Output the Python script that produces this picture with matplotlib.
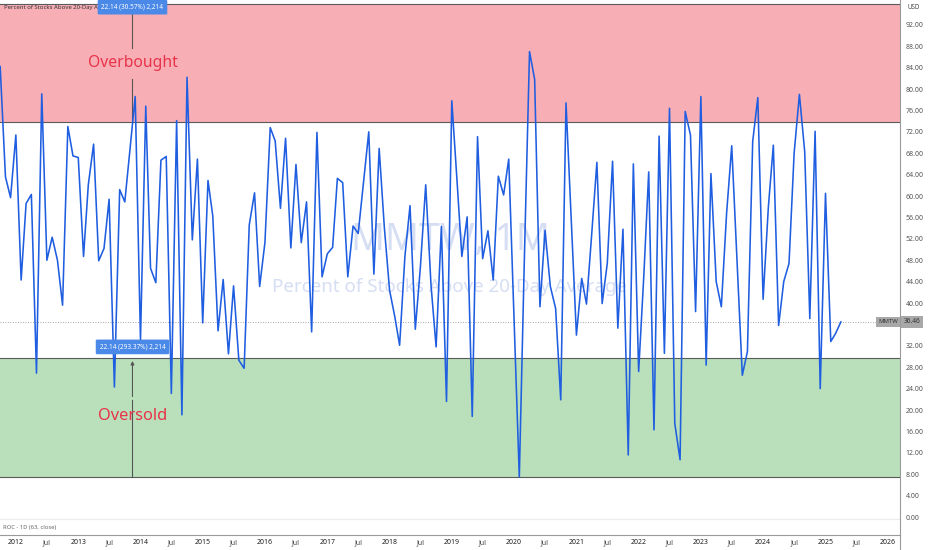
import pandas as pd
import matplotlib.pyplot as plt
import matplotlib.dates as mdates
from matplotlib.lines import Line2D

plt.rcParams['font.family'] = ['Noto Sans', 'DejaVu Sans']

# monthly closes of MMTW, Oct 2011 .. Apr 2025
start = "2011-10-01"
mmtw = [
    84.2, 63.6, 59.7, 71.4, 44.3, 58.6, 60.3, 26.9, 79.1, 48.0,
    52.3, 48.0, 39.6, 73.0, 67.5, 67.2, 48.7, 62.1, 69.7, 47.9,
    50.2, 59.4, 24.3, 61.2, 58.9, 68.9, 78.6, 33.1, 76.8, 46.5,
    43.8, 66.7, 67.4, 23.1, 74.1, 19.1, 82.2, 51.8, 66.9, 36.3,
    62.9, 56.3, 34.8, 44.4, 30.5, 43.2, 29.3, 27.8, 54.6, 60.6,
    43.1, 51.3, 72.8, 70.3, 57.7, 70.8, 50.3, 65.9, 51.3, 58.9,
    34.6, 71.9, 44.9, 49.2, 50.4, 63.3, 62.5, 44.9, 54.4, 53.0,
    62.5, 72.0, 45.4, 68.9, 54.3, 42.4, 37.4, 32.1, 48.7, 58.2,
    35.1, 46.8, 62.1, 43.4, 31.8, 54.3, 21.6, 77.8, 62.7, 48.7,
    56.1, 18.8, 71.1, 48.3, 53.5, 44.3, 63.7, 60.2, 66.9, 37.2,
    7.5, 47.4, 87.0, 81.8, 39.3, 53.6, 43.1, 39.0, 21.9, 77.4,
    56.1, 34.0, 44.6, 39.8, 53.0, 66.3, 39.9, 47.4, 66.5, 35.3,
    53.8, 11.6, 66.0, 27.2, 45.5, 64.5, 16.3, 71.2, 30.6, 76.4,
    17.5, 10.7, 75.8, 71.4, 38.4, 78.6, 28.4, 64.2, 44.0, 39.3,
    56.8, 69.4, 48.0, 26.5, 30.9, 70.2, 78.4, 40.7, 58.0, 69.5,
    35.8, 44.0, 47.4, 68.0, 79.0, 68.3, 37.1, 72.1, 24.0, 60.5,
    32.8, 34.3, 36.46,
]
last_value = 36.46

overbought = (73.8, 95.94)
oversold = (7.547, 29.687)
top_label = "22.14 (30.57%) 2,214"
bottom_label = "22.14 (293.37%) 2,214"
tool_date = pd.Timestamp("2013-11-15")

ytick_values = [v for v in range(0, 96, 4) if v != 36]
years = list(range(2012, 2027))

dates = pd.date_range(start, periods=len(mmtw), freq="MS")

fig = plt.figure(figsize=(9.32, 5.5), dpi=100)
ax = fig.add_axes([0, 15 / 550, 900 / 932, 535 / 550])
ax.set_xlim(pd.Timestamp("2011-09-30"), pd.Timestamp("2026-03-14"))
ax.set_ylim(-3.36, 96.64)

# zones
ax.axhspan(*overbought, color="#f8aeb5", lw=0, zorder=0)
ax.axhspan(*oversold, color="#b9e0bb", lw=0, zorder=0)
for v in overbought + oversold:
    ax.axhline(v, color="#5a5a5a", lw=0.8, zorder=1)

# watermark
ax.text(0.5, 51.8, "MMTW, 1M", transform=ax.get_yaxis_transform(), ha="center", va="center",
        fontsize=27, color="#d6def3", zorder=1)
ax.text(0.5, 43.0, "Percent of Stocks Above 20-Day Average", transform=ax.get_yaxis_transform(),
        ha="center", va="center", fontsize=13.5, color="#d6def3", zorder=1)

# measuring tools
tool_x = mdates.date2num(tool_date)
ax.plot([tool_x, tool_x], [94.2, 87.7], color="#555555", lw=0.8, zorder=2)
ax.plot([tool_x, tool_x], [81.9, overbought[0]], color="#555555", lw=0.8, zorder=2)
ax.plot([tool_x, tool_x], [21.9, oversold[0]], color="#555555", lw=0.8, zorder=2)
ax.annotate("", xy=(tool_x, oversold[1]), xytext=(tool_x, 22.0),
            arrowprops=dict(arrowstyle="-|>", color="#555555", lw=0.8, mutation_scale=5), zorder=2)
ax.text(tool_x, 84.9, "Overbought", ha="center", va="center", fontsize=11.3, color="#e8334a", zorder=2)
ax.text(tool_x, 18.9, "Oversold", ha="center", va="center", fontsize=11.8, color="#e8334a", zorder=2)

# price line
ax.axhline(last_value, color="#8a8a8a", lw=0.6, ls=(0, (1, 2)), zorder=2)
ax.plot(dates, mmtw, color="#1f5ee0", lw=1.15, zorder=3)

for y, label in [(95.3, top_label), (31.8, bottom_label)]:
    ax.text(tool_x, y, label, ha="center", va="center", fontsize=4.6, color="white", zorder=5,
            bbox=dict(boxstyle="round,pad=0.6,rounding_size=0.2", fc="#4a89e8", ec="none"))

ax.text(0.004, 95.3, "Percent of Stocks Above 20-Day Average", transform=ax.get_yaxis_transform(),
        fontsize=4.3, color="#333333", va="center", zorder=4)

# ROC pane
ax.axhline(-0.37, color="#ececec", lw=0.8, zorder=1)
ax.text(0.003, -1.87, "ROC - 1D (63, close)", transform=ax.get_yaxis_transform(),
        fontsize=4.2, color="#666666", va="center")

# last value labels
ax.text(0.998, last_value, "MMTW", transform=ax.get_yaxis_transform(), ha="right", va="center",
        fontsize=4.3, color="#333333", zorder=5,
        bbox=dict(boxstyle="square,pad=0.35", fc="#a8a8a8", ec="none"))
ax.text(1.004, last_value, f"{last_value:.2f}", transform=ax.get_yaxis_transform(), ha="left",
        va="center", fontsize=4.8, color="#333333", zorder=5, clip_on=False,
        bbox=dict(boxstyle="square,pad=0.35", fc="#a8a8a8", ec="none"))
ax.text(1.008, 95.2, "USD", transform=ax.get_yaxis_transform(), ha="left", va="center",
        fontsize=4.5, color="#444444")

# axes
for side in ["top", "left"]:
    ax.spines[side].set_visible(False)
ax.spines["right"].set_color("#9a9a9a")
ax.spines["bottom"].set_color("#9a9a9a")
ax.spines["right"].set_linewidth(0.8)
ax.spines["bottom"].set_linewidth(0.8)
fig.add_artist(Line2D([900 / 932, 900 / 932], [0, 15 / 550], color="#9a9a9a", lw=0.8))

ax.yaxis.tick_right()
ax.set_yticks(ytick_values)
ax.set_yticklabels([f"{v:.2f}" for v in ytick_values])
ax.tick_params(axis="y", length=0, pad=4, labelsize=5, labelcolor="#555555")

xt, xl = [], []
for yr in years:
    xt.append(pd.Timestamp(f"{yr}-01-01"))
    xl.append(str(yr))
    if yr < 2026:
        xt.append(pd.Timestamp(f"{yr}-07-01"))
        xl.append("Jul")
ax.set_xticks(xt)
ax.set_xticklabels(xl)
ax.tick_params(axis="x", length=0, pad=3, labelsize=5, labelcolor="#444444")
for t in ax.get_xticklabels():
    if t.get_text() != "Jul":
        t.set_color("#222222")

fig.savefig("out.png", dpi=100)
